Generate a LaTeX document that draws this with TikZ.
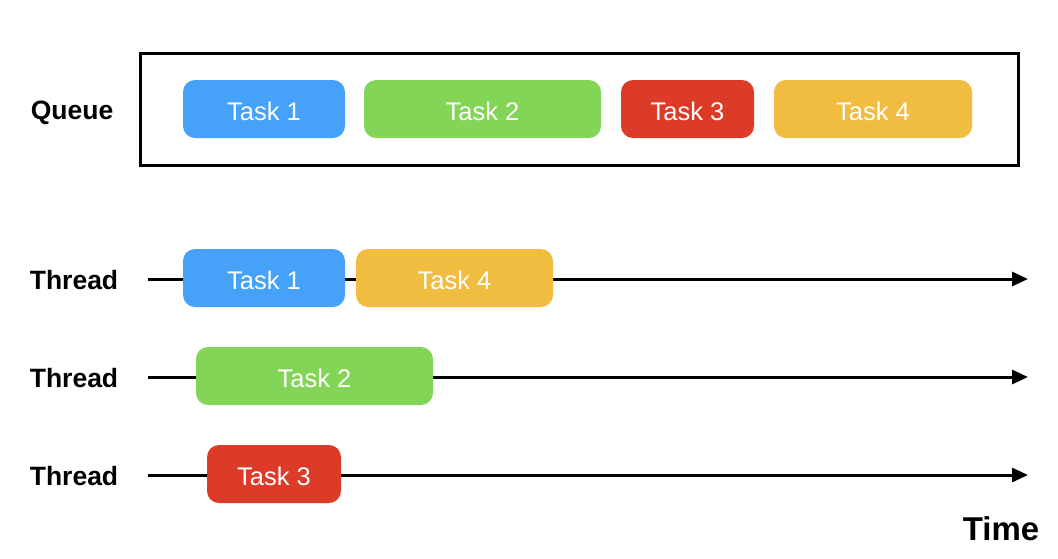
\documentclass[tikz,border=0pt]{standalone}
\usepackage{fontspec}
\setmainfont{Liberation Sans}
\usetikzlibrary{arrows.meta}
\definecolor{tblue}{HTML}{45A2F8}
\definecolor{tgreen}{HTML}{83D557}
\definecolor{tred}{HTML}{DC3B27}
\definecolor{tyellow}{HTML}{F0BD41}
\begin{document}
\begin{tikzpicture}[x=1pt,y=-1pt,
  task/.style={rounded corners=12pt, inner sep=0pt, text=white,
    font=\fontsize{25.5}{30}\selectfont, anchor=center},
  lbl/.style={font=\bfseries\fontsize{26.5}{30}\selectfont, anchor=center},
  timeline/.style={line width=3pt, -{Triangle[length=16pt,width=14pt]}}]
\useasboundingbox (0,0) rectangle (1058,558);
% queue
\node[draw, line width=3pt, minimum width=878pt, minimum height=112pt, inner sep=0pt] (queue) at (579,109) {};
\node[lbl] (qlabel) at (72,113) {Queue};
\newcommand{\taskbox}[6]{%
  \node[task, fill=#2, minimum width=#4pt, minimum height=58pt, text height=24pt, text depth=2pt] (#1) at (#5,#6) {#3};}
\taskbox{q1}{tblue}{Task 1}{162}{264}{109}
\taskbox{q2}{tgreen}{Task 2}{237}{482.5}{109}
\taskbox{q3}{tred}{Task 3}{133}{687.5}{109}
\taskbox{q4}{tyellow}{Task 4}{198}{873}{109}
% threads
\node[lbl] (t1) at (74,280) {Thread};
\node[lbl] (t2) at (74,378) {Thread};
\node[lbl] (t3) at (74,476) {Thread};
\coordinate (s1) at (148,279); \coordinate (e1) at (1028,279);
\coordinate (s2) at (148,377); \coordinate (e2) at (1028,377);
\coordinate (s3) at (148,475); \coordinate (e3) at (1028,475);
\draw[timeline] (s1) -- (e1);
\draw[timeline] (s2) -- (e2);
\draw[timeline] (s3) -- (e3);
\taskbox{a1}{tblue}{Task 1}{162}{264}{278}
\taskbox{a4}{tyellow}{Task 4}{197}{454.5}{278}
\taskbox{b2}{tgreen}{Task 2}{237}{314.5}{376}
\taskbox{c3}{tred}{Task 3}{134}{274}{474}
\node[font=\bfseries\fontsize{33}{38}\selectfont] (time) at (1001,529) {Time};
\end{tikzpicture}
\end{document}
